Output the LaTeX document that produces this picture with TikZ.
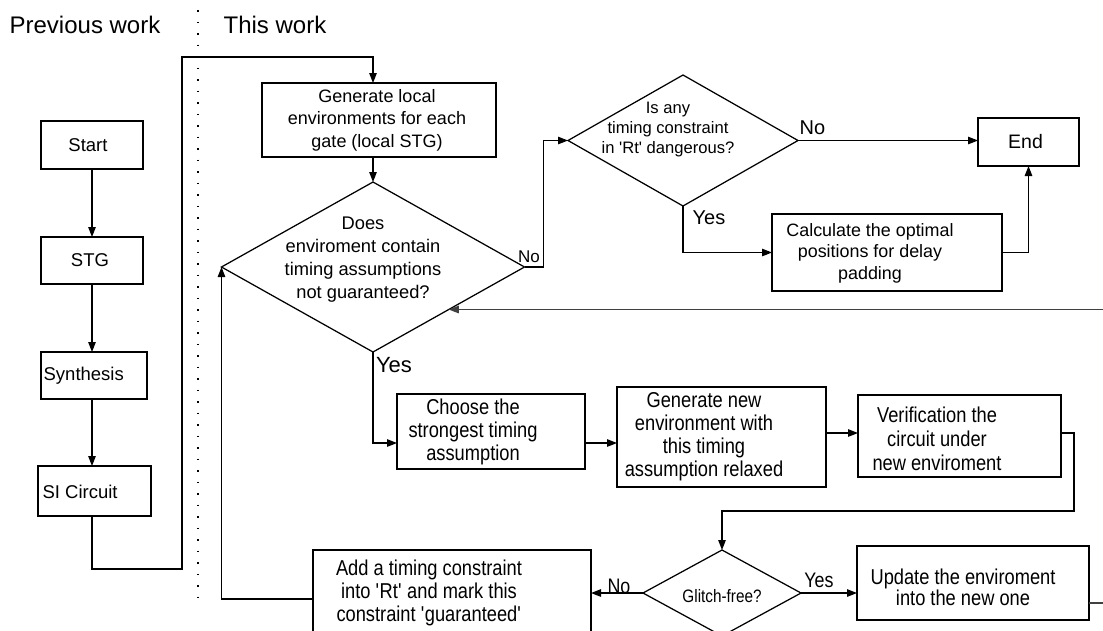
\documentclass[tikz,border=0pt]{standalone}
\usepackage{fontspec}
\setmainfont{Liberation Sans}
\newfontfamily\narrowfont{Liberation Sans}[FakeStretch=0.85]
\usetikzlibrary{arrows.meta,shapes.geometric}

\begin{document}
\begin{tikzpicture}[x=1pt,y=-1pt,
  line width=1.25pt,
  box/.style={draw, rectangle, inner sep=0pt, outer sep=0pt},
  dia/.style={draw, diamond, inner sep=0pt, outer sep=0pt},
  lbl/.style={inner sep=0pt, align=center},
  txtA/.style={lbl, font=\fontsize{18}{22.5}\selectfont},
  txtL/.style={lbl, font=\fontsize{18.5}{22}\selectfont},
  txtN/.style={lbl, font=\narrowfont\fontsize{21.5}{23}\selectfont},
  arr/.style={-{Triangle[length=10pt,width=7.5pt]}},
]
\useasboundingbox (0,0) rectangle (1103,630);
\clip (0,0) rectangle (1103,630);

% headings and the dotted separator
\node[lbl, font=\fontsize{24}{28}\selectfont] (prev) at (85,25) {Previous work};
\node[lbl, font=\fontsize{24}{28}\selectfont] (this) at (275,25) {This work};
\coordinate (dtop) at (198,10);
\coordinate (dbot) at (198,606);
\draw[line width=1.8pt, dash pattern=on 1.8pt off 9.7pt] (dtop) -- (dbot);

% previous flow
\node[box, minimum width=102pt, minimum height=48pt] (start) at (92,145) {};
\node[txtL] (startT) at (88,145) {Start};
\node[box, minimum width=102pt, minimum height=47pt] (stg) at (92,260.5) {};
\node[txtL] (stgT) at (90,260.5) {STG};
\node[box, minimum width=106pt, minimum height=47pt] (syn) at (94,375.5) {};
\node[txtL, anchor=west] (synT) at (43,375.5) {Synthesis};
\node[box, minimum width=113pt, minimum height=50pt] (si) at (94.5,491) {};
\node[txtL, anchor=west] (siT) at (42,492) {SI Circuit};

\draw[arr] (start.south) -- (stg.north);
\draw[arr] (stg.south) -- (stg.south |- syn.north);
\draw[arr] (stg.south |- syn.south) -- (stg.south |- si.north);

% this work
\node[box, minimum width=234pt, minimum height=74pt] (gen) at (379,120) {};
\node[txtA] (genT) at (377,120) {Generate local\\environments for each\\gate (local STG)};

\node[dia, minimum width=303pt, minimum height=170pt] (dec) at (373,267) {};
\node[lbl, font=\fontsize{18.3}{23}\selectfont] (decT) at (363,260)
  {Does\\enviroment contain\\timing assumptions\\not guaranteed?};

\node[dia, minimum width=230pt, minimum height=131pt] (rt) at (683,140.5) {};
\node[lbl, font=\fontsize{16.6}{20}\selectfont] (rtT) at (668,130)
  {Is any\\timing constraint\\in \textquotesingle Rt\textquotesingle{} dangerous?};

\node[box, minimum width=101pt, minimum height=48pt] (end) at (1028.5,142) {};
\node[lbl, font=\fontsize{19.5}{23}\selectfont] (endT) at (1025.5,142) {End};

\node[box, minimum width=230pt, minimum height=77pt] (calc) at (887,252.5) {};
\node[lbl, font=\fontsize{17.9}{21.5}\selectfont] (calcT) at (870,253)
  {Calculate the optimal\\positions for delay\\padding};

\node[box, minimum width=188pt, minimum height=75pt] (choose) at (491,431.5) {};
\node[txtN] (chooseT) at (473,432) {Choose the\\strongest timing\\assumption};

\node[box, minimum width=209pt, minimum height=100pt] (gnew) at (721.5,437) {};
\node[txtN] (gnewT) at (704,437) {Generate new\\environment with\\this timing\\assumption relaxed};

\node[box, minimum width=203pt, minimum height=82pt] (ver) at (959.5,436) {};
\node[txtN, font=\narrowfont\fontsize{21.5}{24}\selectfont] (verT) at (937,439)
  {Verification the\\circuit under\\new enviroment};

\node[dia, minimum width=158pt, minimum height=86pt] (gl) at (722,593) {};
\node[lbl, font=\narrowfont\fontsize{18}{22}\selectfont] (glT) at (722,596) {Glitch-free?};

\node[box, minimum width=232pt, minimum height=74pt] (upd) at (973,583) {};
\node[txtN, font=\narrowfont\fontsize{21.5}{21}\selectfont] (updT) at (963,587)
  {Update the enviroment\\into the new one};

\node[box, minimum width=278pt, minimum height=98pt] (add) at (452,599) {};
\node[txtN] (addT) at (429,593)
  {Add a timing constraint\\into \textquotesingle Rt\textquotesingle{} and mark this\\constraint \textquotesingle guaranteed\textquotesingle};

% branch labels
\node[lbl, font=\fontsize{17}{20}\selectfont] (decNo) at (529,257) {No};
\node[lbl, font=\fontsize{22}{26}\selectfont] (decYes) at (394,365) {Yes};
\node[lbl, font=\fontsize{20}{24}\selectfont] (rtNo) at (812.5,128) {No};
\node[lbl, font=\fontsize{20}{24}\selectfont] (rtYes) at (709,218) {Yes};
\node[lbl, font=\narrowfont\fontsize{21}{24}\selectfont] (glNo) at (619,586) {No};
\node[lbl, font=\narrowfont\fontsize{21}{24}\selectfont] (glYes) at (819,580) {Yes};

% connectors
\coordinate (c1) at (182,569);
\coordinate (c2) at (182,57);
\draw[arr] (stg.south |- si.south) |- (c1) -- (c2) -| (gen.north -| dec.north);
\draw[arr] (gen.south -| dec.north) -- (dec.north);
\draw[arr] (dec.east) -- ++(19,0) |- (rt.west);
\draw[arr] (rt.east) -- (rt.east -| end.west);
\draw[arr] (rt.south) |- (calc.west);
\draw[arr] (calc.east) -| (end.south);
\draw[arr] (dec.south) |- ([yshift=-11.5pt]choose.west);
\draw[arr] ([yshift=-11.5pt]choose.east) -- ([yshift=-11.5pt]choose.east -| gnew.west);
\draw[arr] ([yshift=4pt]gnew.east) -- ([yshift=4pt]gnew.east -| ver.west);
\coordinate (v1) at (1074,511);
\draw[arr] ([yshift=3pt]ver.east) -| (v1) -| (gl.north);
\draw[arr] (gl.east) -- (gl.east -| upd.west);
\draw[arr] (gl.west) -- (gl.west -| add.east);
\draw[arr] (add.west) -| (dec.west);
\draw[arr, draw=black!75] ([yshift=-20pt]upd.east) -- ++(40,0) |- (dec.south east);
\end{tikzpicture}
\end{document}
